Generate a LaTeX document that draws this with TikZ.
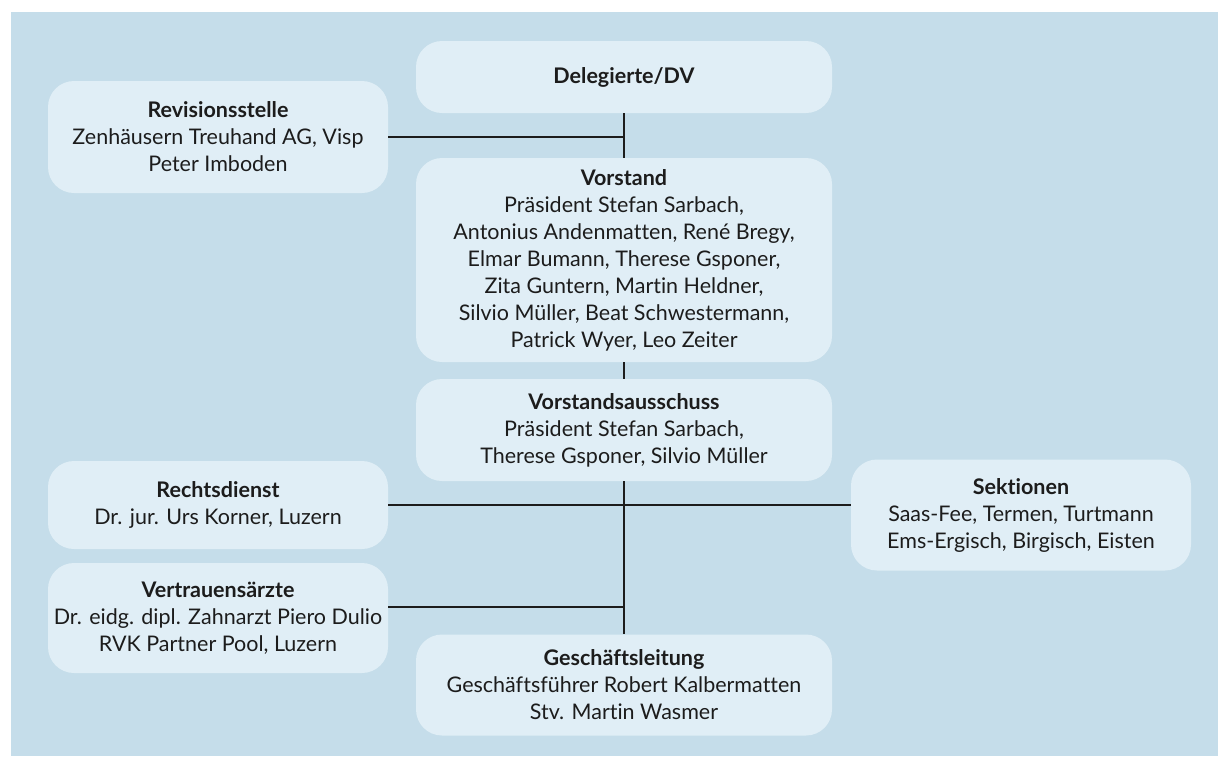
\documentclass[tikz,border=0pt]{standalone}
\usepackage{fontspec}
\setmainfont{Lato}[Ligatures=NoCommon]
\usepackage{tikz}
\usetikzlibrary{positioning}
\definecolor{bgblue}{HTML}{C5DDEA}
\definecolor{boxblue}{HTML}{E0EEF6}
\definecolor{ink}{HTML}{1C1C1C}
\begin{document}
\begin{tikzpicture} [x=1pt, y=-1pt,
        every text node part/.style={align=center},
        unit/.style={fill=boxblue, rounded corners=26pt, inner sep=0pt, text=ink,
                     font=\fontsize{21.5}{27}\selectfont},
        link/.style={draw=ink, line width=1.6pt}]
        \useasboundingbox (0,0) rectangle (1218,756);
        \fill[bgblue] (11,12) rectangle (1218,756);
        \node[unit, minimum width=416pt, minimum height=72pt] (dv) at (624,77) {\textbf{Delegierte/DV}};
        \node[unit, minimum width=340pt, minimum height=112pt] (rev) at (218,137) {\textbf{Revisionsstelle}\\Zenhäusern Treuhand AG, Visp\\Peter Imboden};
        \node[unit, minimum width=416pt, minimum height=204pt] (vor) at (624,260) {\textbf{Vorstand}\\Präsident Stefan Sarbach,\\Antonius Andenmatten, René Bregy,\\Elmar Bumann, Therese Gsponer,\\Zita Guntern, Martin Heldner,\\Silvio Müller, Beat Schwestermann,\\Patrick Wyer, Leo Zeiter};
        \node[unit, minimum width=416pt, minimum height=102pt] (vas) at (624,430) {\textbf{Vorstandsausschuss}\\Präsident Stefan Sarbach,\\Therese Gsponer, Silvio Müller};
        \node[unit, minimum width=340pt, minimum height=88pt] (recht) at (218,505) {\textbf{Rechtsdienst}\\Dr. jur. Urs Korner, Luzern};
        \node[unit, minimum width=340pt, minimum height=111pt] (sek) at (1021,515) {\textbf{Sektionen}\\Saas-Fee, Termen, Turtmann\\Ems-Ergisch, Birgisch, Eisten};
        \node[unit, minimum width=340pt, minimum height=110pt] (vert) at (218,618) {\textbf{Vertrauensärzte}\\Dr. eidg. dipl. Zahnarzt Piero Dulio\\RVK Partner Pool, Luzern};
        \node[unit, minimum width=416pt, minimum height=101pt] (gl) at (624,685) {\textbf{Geschäftsleitung}\\Geschäftsführer Robert Kalbermatten\\Stv. Martin Wasmer};
        \coordinate (jv) at (624,607);
        \draw[link] (dv.south) -- (vor.north);
        \draw[link] (vor.south) -- (vas.north);
        \draw[link] (vas.south) -- (gl.north);
        \draw[link] (rev.east) -- (rev.east -| dv.south);
        \draw[link] (recht.east) -- (recht.east -| sek.west);
        \draw[link] (vert.east |- jv) -- (jv);
    \end{tikzpicture}
\end{document}
